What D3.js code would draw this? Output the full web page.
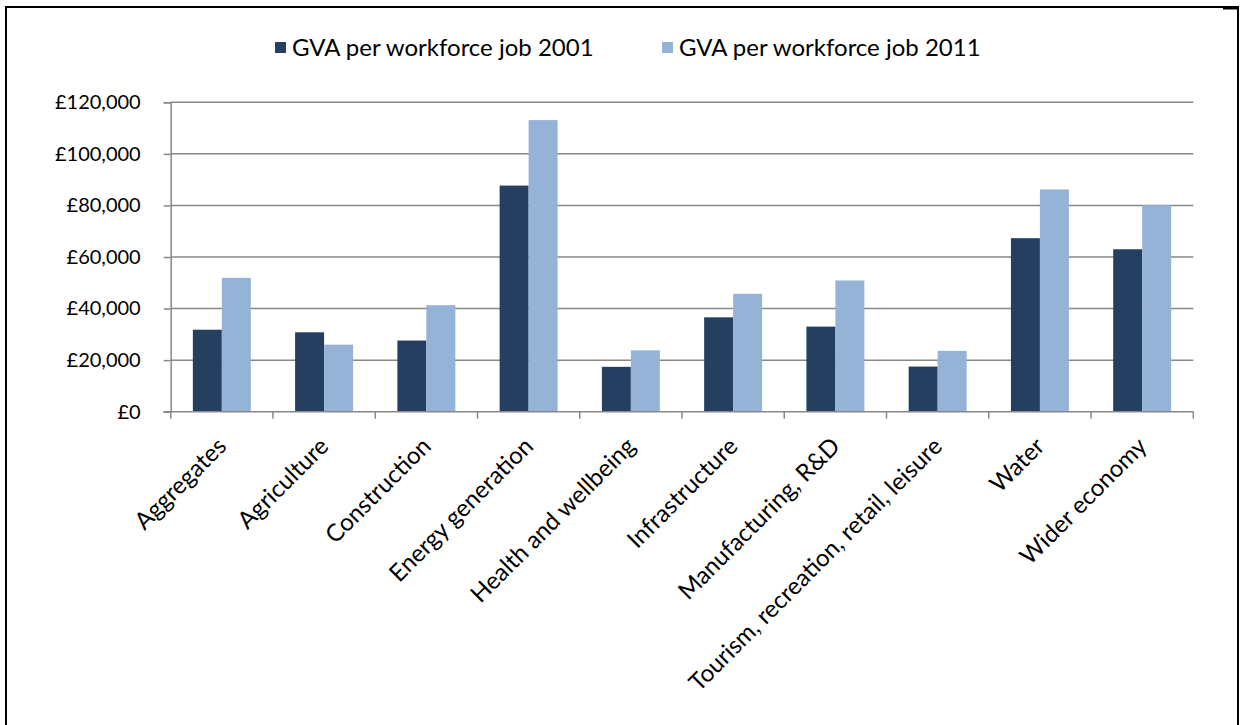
<!DOCTYPE html>
<html>
<head>
<meta charset="utf-8">
<script src="https://cdn.jsdelivr.net/npm/d3@7"></script>
<style>
    html, body { margin: 0; padding: 0; background: #fff; }
    svg { display: block; }
    text { font-family: Lato, 'Open Sans', sans-serif; fill: #000; }
</style>
</head>
<body>
<div id="chart"></div>
<script>
// Data
const categories = [
    'Aggregates', 'Agriculture', 'Construction', 'Energy generation',
    'Health and wellbeing', 'Infrastructure', 'Manufacturing, R&D',
    'Tourism, recreation, retail, leisure', 'Water', 'Wider economy'
];
const seriesNames = ['GVA per workforce job 2001', 'GVA per workforce job 2011'];
const gva2001 = [31800, 30800, 27600, 87700, 17400, 36600, 33000, 17500, 67300, 63000];
const gva2011 = [51900, 26000, 41300, 113100, 23800, 45700, 50900, 23600, 86200, 80100];
const yTicks = [0, 20000, 40000, 60000, 80000, 100000, 120000];

const colors = ['#253f60', '#95b3d7'];
const width = 1240, height = 725;
const plot = { left: 170.7, right: 1193.3, top: 102.3, bottom: 411.7 };

const svg = d3.select('#chart')
    .append('svg')
    .attr('width', width)
    .attr('height', height);

// Frame around the chart
svg.append('path')
    .attr('d', `M6,${height} L6,7 L1238,7 L1238,${height}`)
    .attr('fill', 'none')
    .attr('stroke', '#000')
    .attr('stroke-width', 2);
svg.append('line')
    .attr('x1', 1223).attr('x2', 1239).attr('y1', 8).attr('y2', 8)
    .attr('stroke', '#000').attr('stroke-width', 3);

// Scales
const x0 = d3.scaleBand()
    .domain(categories)
    .range([plot.left, plot.right])
    .padding(0);

const x1 = d3.scaleBand()
    .domain(seriesNames)
    .range([0, x0.bandwidth()])
    .paddingInner(0)
    .paddingOuter(0.764);

const y = d3.scaleLinear()
    .domain([0, 120000])
    .range([plot.bottom, plot.top]);

// Gridlines
svg.append('g')
    .selectAll('line')
    .data(yTicks.filter(d => d > 0))
    .join('line')
    .attr('x1', plot.left)
    .attr('x2', plot.right)
    .attr('y1', d => y(d))
    .attr('y2', d => y(d))
    .attr('stroke', '#888')
    .attr('stroke-width', 1.5);

// Y axis
const yAxis = svg.append('g')
    .attr('transform', `translate(${plot.left},0)`)
    .call(d3.axisLeft(y)
        .tickValues(yTicks)
        .tickSize(7)
        .tickPadding(23)
        .tickFormat(d => '£' + d3.format(',')(d)));
yAxis.select('.domain').attr('stroke', '#888').attr('stroke-width', 1.5);
yAxis.selectAll('.tick line').attr('stroke', '#888').attr('stroke-width', 1.5);
yAxis.selectAll('.tick text')
    .style('font-size', '20px')
    .style('font-family', 'Lato, sans-serif')
    .attr('fill', '#000');

// Bars
const rows = categories.map((c, i) => ({ category: c, values: [gva2001[i], gva2011[i]] }));

svg.append('g')
    .selectAll('g')
    .data(rows)
    .join('g')
    .attr('transform', d => `translate(${x0(d.category)},0)`)
    .selectAll('rect')
    .data(d => d.values.map((v, j) => ({ series: seriesNames[j], value: v, idx: j })))
    .join('rect')
    .attr('x', d => x1(d.series))
    .attr('width', x1.bandwidth())
    .attr('y', d => y(d.value))
    .attr('height', d => y(0) - y(d.value))
    .attr('fill', d => colors[d.idx]);

// X axis
const xAxis = svg.append('g')
    .attr('transform', `translate(0,${plot.bottom})`);
xAxis.append('line')
    .attr('x1', plot.left - 7)
    .attr('x2', plot.right)
    .attr('stroke', '#888')
    .attr('stroke-width', 1.5);
xAxis.selectAll('.tick')
    .data(categories.map(c => x0(c)).concat([plot.right]))
    .join('line')
    .attr('class', 'tick')
    .attr('x1', d => d)
    .attr('x2', d => d)
    .attr('y1', 0)
    .attr('y2', 7)
    .attr('stroke', '#888')
    .attr('stroke-width', 1.5);

xAxis.selectAll('.label')
    .data(categories)
    .join('text')
    .attr('class', 'label')
    .attr('transform', d => `translate(${x0(d) + x0.bandwidth() / 2 + 6},${36}) rotate(-45)`)
    .attr('text-anchor', 'end')
    .style('font-size', '24px')
    .text(d => d);

// Legend
const legend = svg.append('g');
const legendX = [275, 662];
seriesNames.forEach((name, i) => {
    const g = legend.append('g').attr('transform', `translate(${legendX[i]},42)`);
    g.append('rect')
        .attr('width', 11)
        .attr('height', 11)
        .attr('fill', colors[i]);
    g.append('text')
        .attr('x', 17)
        .attr('y', 14)
        .style('font-size', '24px')
        .text(name);
});
</script>
</body>
</html>
